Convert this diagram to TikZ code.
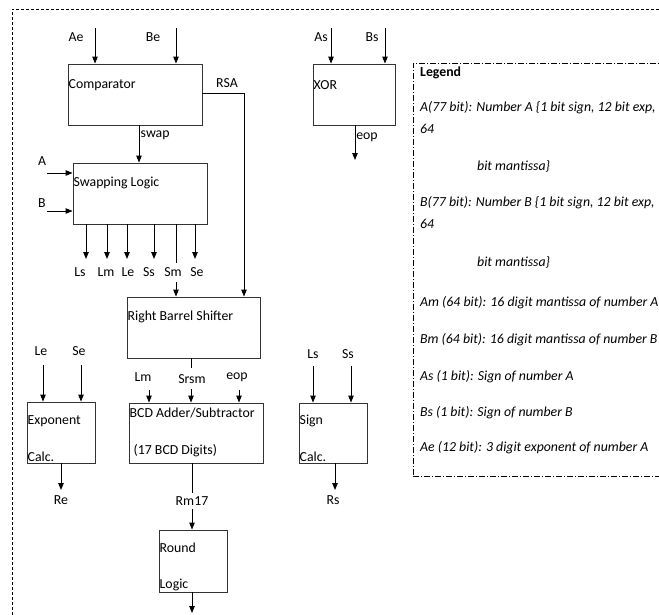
\documentclass[tikz,border=0pt]{standalone}
\usepackage{fontspec}
\setmainfont{Carlito}
\usetikzlibrary{arrows.meta}
\begin{document}
\begin{tikzpicture}[x=1pt,y=-1pt,
  font=\fontsize{13.8}{16}\selectfont,
  blk/.style={draw=black!80,line width=0.9pt,inner sep=0pt},
  arr/.style={draw=black,line width=0.9pt,-{Triangle[length=7pt,width=5.5pt]}},
  ln/.style={draw=black,line width=0.9pt},
  txt/.style={inner sep=0.5pt,anchor=west},
  lbl/.style={inner sep=0.5pt},
  lg/.style={inner sep=0pt,anchor=west,font=\fontsize{13.8}{16}\selectfont\itshape}]
\useasboundingbox (0,0) rectangle (659,614);
\clip (0,0) rectangle (659,614);
% outer dashed frame
\draw[line width=0.8pt,dash pattern=on 3pt off 2pt] (12,700) -- (12,9) -- (700,9);
% legend frame
\node[draw,line width=0.7pt,dash pattern=on 6pt off 2pt on 1pt off 2pt,minimum width=300pt,minimum height=413pt,inner sep=0pt,anchor=north west] (legend) at (413,63) {};
% blocks
\node[blk,minimum width=134pt,minimum height=61pt] (cmp) at (135,94.5) {};
\node[blk,minimum width=134pt,minimum height=61pt] (swp) at (140,193.5) {};
\node[blk,minimum width=133pt,minimum height=61pt] (rbs) at (193.5,327.5) {};
\node[blk,minimum width=134pt,minimum height=60pt] (bcd) at (196,433) {};
\node[blk,minimum width=68pt,minimum height=62pt] (rnd) at (193,561) {};
\node[blk,minimum width=68pt,minimum height=61pt] (exc) at (61,432.5) {};
\node[blk,minimum width=68pt,minimum height=60pt] (sgc) at (333,433) {};
\node[blk,minimum width=82pt,minimum height=61pt] (xor) at (354,94.5) {};
% block texts
\node[txt] (tcmp) at (68,85) {Comparator};
\node[txt] (tswp) at (73,183) {Swapping Logic};
\node[txt] (trbs) at (127,317) {Right Barrel Shifter};
\node[txt] (tbcd1) at (129,413) {BCD Adder/Subtractor};
\node[txt] (tbcd2) at (133,451) {(17 BCD Digits)};
\node[txt] (trnd1) at (159,548) {Round};
\node[txt] (trnd2) at (159,585) {Logic};
\node[txt] (texc1) at (27,421) {Exponent};
\node[txt] (texc2) at (27,457) {Calc.};
\node[txt] (tsgc1) at (299,421) {Sign};
\node[txt] (tsgc2) at (299,457) {Calc.};
\node[txt] (txor) at (313,85) {XOR};
% comparator inputs
\node[lbl] (lae) at (76,37) {Ae};
\node[lbl] (lbe) at (153,37) {Be};
\coordinate (sae) at (95,28);
\coordinate (sbe) at (176,28);
\draw[arr] (sae) -- (sae |- cmp.north);
\draw[arr] (sbe) -- (sbe |- cmp.north);
% XOR inputs
\node[lbl] (las) at (321,37) {As};
\node[lbl] (lbs) at (372,37) {Bs};
\coordinate (sas) at (331,28);
\coordinate (sbs) at (385,28);
\draw[arr] (sas) -- (sas |- xor.north);
\draw[arr] (sbs) -- (sbs |- xor.north);
\coordinate (xeop) at (355,160);
\draw[arr] (xeop |- xor.south) -- (xeop);
\node[lbl] (lxeop) at (367,137) {eop};
% RSA
\node[lbl] (lrsa) at (227,83) {RSA};
\coordinate (rsa) at (244,93);
\draw[arr] (rsa -| cmp.east) -- (rsa) -- (rsa |- rbs.north);
% swap
\coordinate (sw) at (139,125);
\draw[arr] (sw) -- (sw |- swp.north);
\node[lbl,anchor=west] (lswap) at (140,135) {swap};
% A, B inputs
\node[lbl] (la) at (42,161) {A};
\node[lbl] (lb) at (42,203) {B};
\coordinate (sa) at (47,173);
\coordinate (sb) at (47,211);
\draw[arr] (sa) -- (sa -| swp.west);
\draw[arr] (sb) -- (sb -| swp.west);
% swapping outputs
\foreach \x/\lx/\t/\n in {86/80/Ls/ls,107/106/Lm/lm,127/128/Le/le,154/149/Ss/ss,195/197/Se/se}{
  \coordinate (o\n) at (\x,259);
  \draw[arr] (o\n |- swp.south) -- (o\n);
  \node[lbl] (l\n) at (\lx,272) {\t};
}
\node[lbl] (lsm) at (173,272) {Sm};
\coordinate (sm1) at (176,263);
\coordinate (sm2) at (176,282);
\draw[ln] (sm1 |- swp.south) -- (sm1);
\draw[arr] (sm2) -- (sm2 |- rbs.north);
% barrel shifter -> BCD
\coordinate (sr1) at (191,368);
\coordinate (sr2) at (191,389);
\draw[ln] (sr1 |- rbs.south) -- (sr1);
\node[lbl] (lsrsm) at (192,379) {Srsm};
\draw[arr] (sr2) -- (sr2 |- bcd.north);
\node[lbl] (llm2) at (143,377) {Lm};
\coordinate (slm) at (149,390);
\draw[arr] (slm) -- (slm |- bcd.north);
\node[lbl] (leop2) at (237,377) {eop};
\coordinate (seop) at (239,390);
\draw[arr] (seop) -- (seop |- bcd.north);
% exponent calc
\node[lbl] (lle) at (41,351) {Le};
\node[lbl] (lse) at (79,351) {Se};
\coordinate (sle) at (43,365);
\coordinate (sse) at (81,365);
\draw[arr] (sle) -- (sle |- exc.north);
\draw[arr] (sse) -- (sse |- exc.north);
\coordinate (ore) at (61,490);
\draw[arr] (ore |- exc.south) -- (ore);
\node[lbl] (lre) at (61,500) {Re};
% sign calc
\node[lbl] (lls) at (313,354) {Ls};
\node[lbl] (lss) at (348,354) {Ss};
\coordinate (sls) at (313,366);
\coordinate (sss) at (351,366);
\draw[arr] (sls) -- (sls |- sgc.north);
\draw[arr] (sss) -- (sss |- sgc.north);
\coordinate (ors) at (335,490);
\draw[arr] (ors |- sgc.south) -- (ors);
\node[lbl] (lrs) at (333,500) {Rs};
% BCD -> round
\coordinate (rm1) at (192,493);
\coordinate (rm2) at (192,509);
\draw[ln] (rm1 |- bcd.south) -- (rm1);
\node[lbl] (lrm) at (192,501) {Rm17};
\draw[arr] (rm2) -- (rm2 |- rnd.north);
\coordinate (rout) at (192,613);
\draw[arr] (rout |- rnd.south) -- (rout);
% legend texts
\node[lg,font=\fontsize{13.8}{16}\selectfont\bfseries] (lg0) at (420,73) {Legend};
\node[lg] (lg1) at (420,108) {A(77 bit): Number A \{1 bit sign, 12 bit exp,};
\node[lg] (lg2) at (420,129) {64};
\node[lg] (lg3) at (477,166) {bit mantissa\}};
\node[lg] (lg4) at (420,203) {B(77 bit): Number B \{1 bit sign, 12 bit exp,};
\node[lg] (lg5) at (420,224) {64};
\node[lg] (lg6) at (477,262) {bit mantissa\}};
\node[lg] (lg7) at (420,303) {Am (64 bit): 16 digit mantissa of number A};
\node[lg] (lg8) at (420,340) {Bm (64 bit): 16 digit mantissa of number B};
\node[lg] (lg9) at (420,377) {As (1 bit): Sign of number A};
\node[lg] (lg10) at (420,413) {Bs (1 bit): Sign of number B};
\node[lg] (lg11) at (420,448) {Ae (12 bit): 3 digit exponent of number A};
\end{tikzpicture}
\end{document}
